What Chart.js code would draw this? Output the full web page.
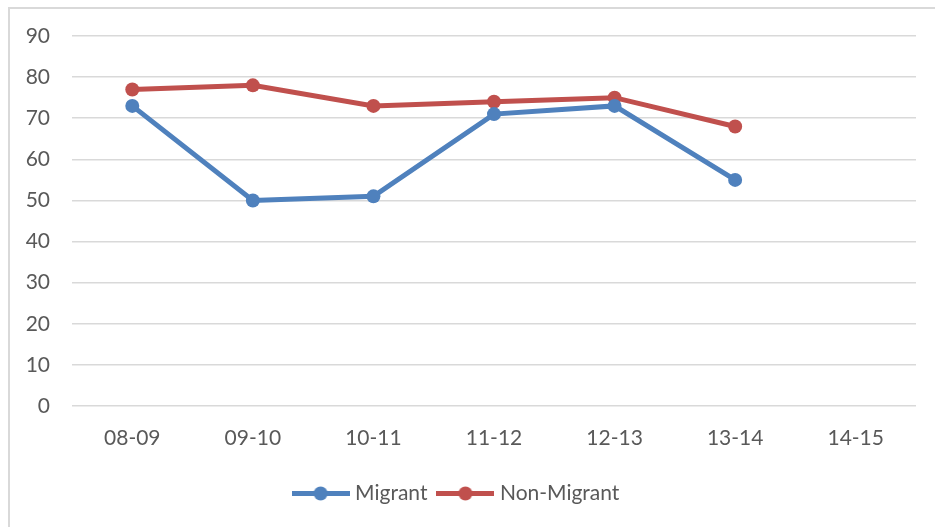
<!DOCTYPE html>
<html>
<head>
<meta charset="utf-8">
<script src="https://cdn.jsdelivr.net/npm/chart.js@4/dist/chart.umd.min.js"></script>
<style>
    html, body { margin: 0; padding: 0; background: #fff; overflow: hidden; }
    #frame {
        position: absolute; left: 8px; top: 7px;
        width: 1000px; height: 1000px;
        border: 2px solid #d9d9d9;
    }
    #wrap { position: absolute; left: 0; top: 0; width: 935px; height: 527px; }
</style>
</head>
<body>
<div id="frame"></div>
<div id="wrap"><canvas id="chart" width="935" height="527"></canvas></div>
<script>
/* Migrant vs Non-Migrant, by year */
const years = ['08-09', '09-10', '10-11', '11-12', '12-13', '13-14', '14-15'];
const migrant = [73, 50, 51, 71, 73, 55, null];
const nonMigrant = [77, 78, 73, 74, 75, 68, null];
const yTicks = [0, 10, 20, 30, 40, 50, 60, 70, 80, 90];

const BLUE = '#4f81bd';
const RED = '#c0504d';

/* legend marker: a short line with a dot in the middle */
function legendMarker(color) {
    const c = document.createElement('canvas');
    c.width = 58;
    c.height = 15;
    const g = c.getContext('2d');
    g.strokeStyle = color;
    g.lineWidth = 5;
    g.beginPath();
    g.moveTo(0, 7.5);
    g.lineTo(58, 7.5);
    g.stroke();
    g.fillStyle = color;
    g.beginPath();
    g.arc(29, 7.5, 7, 0, Math.PI * 2);
    g.fill();
    return c;
}

const fontFamily = 'Lato, "Open Sans", sans-serif';

new Chart(document.getElementById('chart'), {
    type: 'line',
    data: {
        labels: years,
        datasets: [{
            label: 'Migrant',
            data: migrant,
            borderColor: BLUE,
            backgroundColor: BLUE,
            borderWidth: 5,
            pointRadius: 7,
            pointHoverRadius: 7,
            pointBorderWidth: 0,
            pointStyle: 'circle',
            tension: 0
        }, {
            label: 'Non-Migrant',
            data: nonMigrant,
            borderColor: RED,
            backgroundColor: RED,
            borderWidth: 5,
            pointRadius: 7,
            pointHoverRadius: 7,
            pointBorderWidth: 0,
            pointStyle: 'circle',
            tension: 0
        }]
    },
    options: {
        responsive: false,
        animation: false,
        layout: {
            padding: { top: 36, right: 19, bottom: 13, left: 0 }
        },
        plugins: {
            tooltip: { enabled: false },
            legend: {
                position: 'bottom',
                labels: {
                    color: '#595959',
                    font: { family: fontFamily, size: 21 },
                    padding: 14,
                    usePointStyle: true,
                    pointStyleWidth: 48,
                    generateLabels: (chart) => chart.data.datasets.map((ds, i) => ({
                        text: ds.label,
                        fillStyle: ds.borderColor,
                        strokeStyle: ds.borderColor,
                        fontColor: '#595959',
                        lineWidth: 0,
                        pointStyle: legendMarker(ds.borderColor),
                        datasetIndex: i,
                        hidden: false
                    }))
                }
            }
        },
        scales: {
            x: {
                offset: true,
                grid: { display: false, drawTicks: false },
                border: { display: false },
                ticks: {
                    color: '#595959',
                    font: { family: fontFamily, size: 21 },
                    padding: 20,
                    maxRotation: 0
                },
                afterFit: (scale) => { scale.height = 63; }
            },
            y: {
                min: 0,
                max: 90,
                afterBuildTicks: (scale) => {
                    scale.ticks = yTicks.map(v => ({ value: v }));
                },
                grid: { color: '#d9d9d9', lineWidth: 1.5, drawTicks: false },
                border: { display: false },
                ticks: {
                    color: '#595959',
                    font: { family: fontFamily, size: 21 },
                    padding: 22
                },
                afterFit: (scale) => { scale.width = 72; }
            }
        }
    }
});
</script>
</body>
</html>
